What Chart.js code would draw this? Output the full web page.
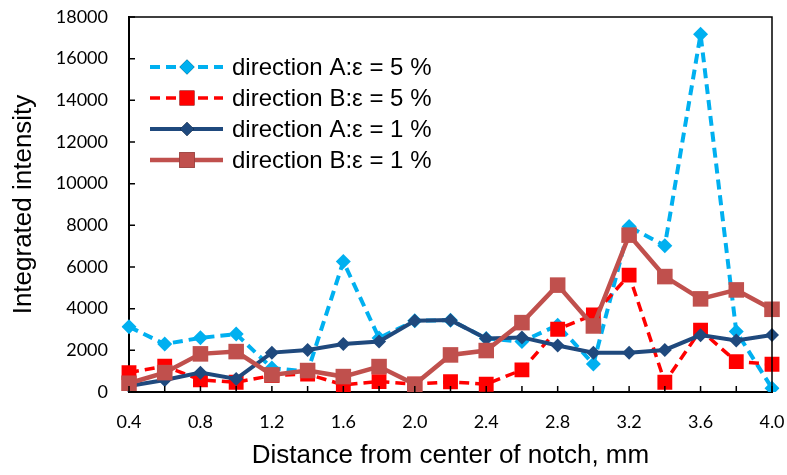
<!DOCTYPE html>
<html>
<head>
<meta charset="utf-8">
<script src="https://cdn.jsdelivr.net/npm/chart.js@4/dist/chart.umd.min.js"></script>
<style>
  html, body { margin: 0; padding: 0; background: #fff; }
  #wrap { width: 787px; height: 475px; }
</style>
</head>
<body>
<div id="wrap"><canvas id="chart"></canvas></div>
<script>
// distance from notch centre, mm
const distances = ['0.4', '0.6', '0.8', '1.0', '1.2', '1.4', '1.6', '1.8', '2.0', '2.2',
                   '2.4', '2.6', '2.8', '3.0', '3.2', '3.4', '3.6', '3.8', '4.0'];

const dirA5 = [3130, 2300, 2600, 2780, 1150, 980, 6260, 2590, 3420, 3450,
               2570, 2420, 3210, 1340, 7940, 7020, 17170, 2900, 180];
const dirB5 = [930, 1240, 580, 470, 790, 860, 340, 500, 380, 490,
               370, 1060, 3010, 3700, 5610, 470, 2970, 1460, 1330];
const dirA1 = [290, 580, 930, 630, 1890, 2020, 2300, 2420, 3420, 3450,
               2570, 2620, 2230, 1890, 1890, 2020, 2730, 2470, 2740];
const dirB1 = [420, 930, 1830, 1940, 820, 1030, 740, 1220, 370, 1780,
               1990, 3330, 5130, 3170, 7530, 5540, 4470, 4900, 3970];

const seriesNames = ['direction A:ε = 5 %', 'direction B:ε = 5 %',
                     'direction A:ε = 1 %', 'direction B:ε = 1 %'];

const yTicks = [0, 2000, 4000, 6000, 8000, 10000, 12000, 14000, 16000, 18000];

// рамка, внутренние засечки и легенда в стиле Excel
const excelLook = {
    id: 'excelLook',
    afterDraw(chart) {
        const ctx = chart.ctx;
        const a = chart.chartArea;
        const x = chart.scales.x, y = chart.scales.y;
        ctx.save();
        ctx.strokeStyle = '#000';
        ctx.lineWidth = 1.5;
        ctx.beginPath();
        ctx.moveTo(a.left, a.top);
        ctx.lineTo(a.right, a.top);
        ctx.lineTo(a.right, a.bottom);
        ctx.stroke();

        ctx.lineWidth = 1.5;
        ctx.beginPath();
        y.ticks.forEach((t, i) => {
            const py = y.getPixelForTick(i);
            ctx.moveTo(a.left, py);
            ctx.lineTo(a.left + 6, py);
        });
        x.ticks.forEach((t, i) => {
            const px = x.getPixelForTick(i);
            ctx.moveTo(px, a.bottom);
            ctx.lineTo(px, a.bottom - 6);
        });
        ctx.stroke();

        // legend
        chart.data.datasets.forEach((ds, i) => {
            const ly = 67 + i * 31;
            ctx.strokeStyle = ds.borderColor;
            ctx.lineWidth = ds.borderWidth;
            ctx.setLineDash(ds.borderDash || []);
            ctx.beginPath();
            ctx.moveTo(150, ly);
            ctx.lineTo(223, ly);
            ctx.stroke();
            ctx.setLineDash([]);
            Chart.helpers.drawPoint(ctx, {
                pointStyle: ds.pointStyle,
                radius: ds.pointRadius,
                rotation: 0,
                borderWidth: 0
            }, 187, ly);
            ctx.fillStyle = ds.pointBackgroundColor;
            ctx.fill();

            ctx.fillStyle = '#000';
            ctx.font = '24px "Liberation Sans", Arial, sans-serif';
            ctx.textBaseline = 'middle';
            ctx.textAlign = 'left';
            ctx.fillText(ds.label, 232, ly + 1);
        });
        ctx.restore();
    }
};

new Chart(document.getElementById('chart'), {
    type: 'line',
    data: {
        labels: distances,
        datasets: [
            {
                label: seriesNames[0], data: dirA5, order: 4,
                borderColor: '#00B0F0', borderWidth: 4, borderDash: [10, 6],
                pointStyle: 'rectRot', pointRadius: 7.5,
                pointBackgroundColor: '#00B0F0', pointBorderWidth: 0
            },
            {
                label: seriesNames[1], data: dirB5, order: 3,
                borderColor: '#FF0000', borderWidth: 3.5, borderDash: [10, 6],
                pointStyle: 'rect', pointRadius: 10.5,
                pointBackgroundColor: '#FF0000', pointBorderWidth: 0
            },
            {
                label: seriesNames[2], data: dirA1, order: 2,
                borderColor: '#1F497D', borderWidth: 4,
                pointStyle: 'rectRot', pointRadius: 7,
                pointBackgroundColor: '#1F497D', pointBorderWidth: 0
            },
            {
                label: seriesNames[3], data: dirB1, order: 1,
                borderColor: '#C0504D', borderWidth: 4.5,
                pointStyle: 'rect', pointRadius: 11,
                pointBackgroundColor: '#C0504D', pointBorderWidth: 0
            }
        ]
    },
    options: {
        responsive: true,
        maintainAspectRatio: false,
        animation: false,
        layout: { autoPadding: false, padding: { top: 17, right: 15, left: 0, bottom: 0 } },
        elements: { line: { tension: 0 } },
        plugins: {
            legend: { display: false },
            tooltip: { enabled: false }
        },
        scales: {
            x: {
                offset: false,
                grid: { display: false, drawTicks: false },
                border: { color: '#000', width: 2 },
                ticks: {
                    autoSkip: false,
                    maxRotation: 0,
                    padding: 19,
                    color: '#000',
                    font: { family: 'Lato', size: 18 },
                    callback: (v, i) => (i % 2 === 0 ? distances[i] : '')
                },
                title: {
                    display: true,
                    text: 'Distance from center of notch, mm',
                    color: '#000',
                    font: { family: '"Liberation Sans", Arial', size: 26 },
                    padding: { top: 0, bottom: 4 }
                },
                afterFit(scale) {
                    scale.height = 83;
                    scale.paddingLeft = 0;
                    scale.paddingRight = 0;
                }
            },
            y: {
                min: 0,
                max: 18000,
                grid: { display: false, drawTicks: false },
                border: { color: '#000', width: 2 },
                afterBuildTicks(scale) { scale.ticks = yTicks.map(v => ({ value: v })); },
                ticks: {
                    padding: 21,
                    color: '#000',
                    font: { family: 'Lato', size: 18 },
                    callback: v => String(v)
                },
                title: {
                    display: true,
                    text: 'Integrated intensity',
                    color: '#000',
                    font: { family: '"Liberation Sans", Arial', size: 26 },
                    padding: { top: 8, bottom: 0 }
                },
                afterFit(scale) {
                    scale.width = 129;
                    scale.paddingTop = 0;
                    scale.paddingBottom = 0;
                }
            }
        }
    },
    plugins: [excelLook]
});
</script>
</body>
</html>
